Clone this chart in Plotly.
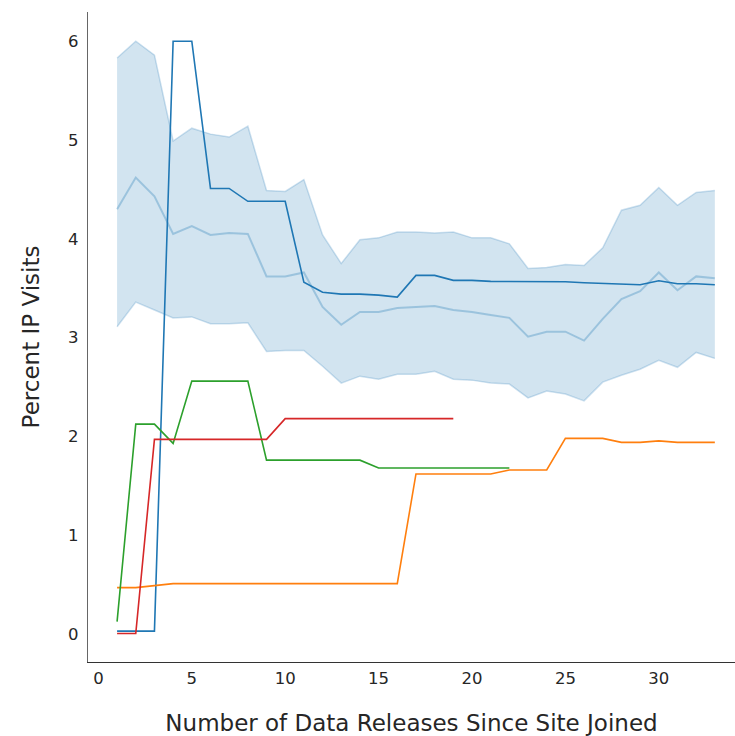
import plotly.graph_objects as go

# Releases since a site joined
releases = list(range(1, 34))

# Mean across all sites with its confidence band
all_sites_mean = [4.30, 4.62, 4.43, 4.05, 4.13, 4.04, 4.06, 4.05, 3.62, 3.62,
                  3.66, 3.31, 3.13, 3.26, 3.26, 3.30, 3.31, 3.32, 3.28, 3.26,
                  3.23, 3.20, 3.01, 3.06, 3.06, 2.97, 3.19, 3.39, 3.47, 3.66,
                  3.48, 3.62, 3.60]
all_sites_upper = [5.83, 6.00, 5.86, 4.99, 5.12, 5.06, 5.03, 5.14, 4.49, 4.48,
                   4.60, 4.04, 3.75, 3.99, 4.01, 4.07, 4.07, 4.06, 4.07, 4.01,
                   4.01, 3.95, 3.70, 3.71, 3.74, 3.73, 3.91, 4.29, 4.34, 4.52,
                   4.34, 4.47, 4.49]
all_sites_lower = [3.11, 3.36, 3.28, 3.20, 3.21, 3.14, 3.14, 3.15, 2.86, 2.87,
                   2.87, 2.71, 2.54, 2.61, 2.58, 2.63, 2.63, 2.66, 2.58, 2.57,
                   2.54, 2.53, 2.39, 2.46, 2.43, 2.36, 2.55, 2.62, 2.68, 2.77,
                   2.70, 2.85, 2.79]

# Individual sites
site_blue = [0.03, 0.03, 0.03, 6.00, 6.00, 4.51, 4.51, 4.38, 4.38, 4.38,
             3.56, 3.46, 3.44, 3.44, 3.43, 3.41, 3.63, 3.63, 3.58, 3.58,
             3.57, 3.57, 3.57, 3.57, 3.565, 3.555, 3.55, 3.54, 3.535, 3.575,
             3.545, 3.545, 3.535]
site_orange = [0.47, 0.47, 0.49, 0.51, 0.51, 0.51, 0.51, 0.51, 0.51, 0.51,
               0.51, 0.51, 0.51, 0.51, 0.51, 0.51, 1.62, 1.62, 1.62, 1.62,
               1.62, 1.66, 1.66, 1.66, 1.98, 1.98, 1.98, 1.94, 1.94, 1.955,
               1.94, 1.94, 1.94]
site_green = [0.125, 2.125, 2.125, 1.93, 2.56, 2.56, 2.56, 2.56, 1.76, 1.76,
              1.76, 1.76, 1.76, 1.76, 1.68, 1.68, 1.68, 1.68, 1.68, 1.68,
              1.68, 1.68]
site_red = [0.005, 0.005, 1.97, 1.97, 1.97, 1.97, 1.97, 1.97, 1.97, 2.18,
            2.18, 2.18, 2.18, 2.18, 2.18, 2.18, 2.18, 2.18, 2.18]

x_ticks = [0, 5, 10, 15, 20, 25, 30]
y_ticks = [0, 1, 2, 3, 4, 5, 6]

BLUE = "#1f77b4"
ORANGE = "#ff7f0e"
GREEN = "#2ca02c"
RED = "#d62728"
BAND = "rgba(31,119,180,0.2)"
BAND_EDGE = "rgba(31,119,180,0.22)"
TEXT = "#262626"
FONT = "DejaVu Sans"

fig = go.Figure()

# confidence band: lower edge then upper edge filled to it
fig.add_trace(go.Scatter(x=releases, y=all_sites_lower, mode="lines",
                         line=dict(color=BAND_EDGE, width=1.5),
                         showlegend=False, hoverinfo="skip"))
fig.add_trace(go.Scatter(x=releases, y=all_sites_upper, mode="lines",
                         line=dict(color=BAND_EDGE, width=1.5),
                         fill="tonexty", fillcolor=BAND,
                         showlegend=False, hoverinfo="skip"))
fig.add_trace(go.Scatter(x=releases, y=all_sites_mean, mode="lines",
                         line=dict(color="rgba(31,119,180,0.3)", width=2),
                         showlegend=False))

for ys, col in [(site_blue, BLUE), (site_orange, ORANGE),
                (site_green, GREEN), (site_red, RED)]:
    fig.add_trace(go.Scatter(x=releases[:len(ys)], y=ys, mode="lines",
                             line=dict(color=col, width=1.6),
                             showlegend=False))

fig.update_layout(
    width=735, height=736,
    margin=dict(l=88, r=0, t=12, b=74),
    plot_bgcolor="white", paper_bgcolor="white",
    font=dict(family=FONT, color=TEXT),
    showlegend=False,
)
fig.update_xaxes(
    range=[-0.557, 34.08], tickvals=x_ticks, ticktext=[str(v) for v in x_ticks],
    showgrid=False, zeroline=False, showline=True, linecolor="#333333",
    linewidth=1.2, ticks="", ticklabelstandoff=1,
    tickfont=dict(size=16.5, family=FONT, color=TEXT),
    title=dict(text="Number of Data Releases Since Site Joined",
               font=dict(size=23, family=FONT, color=TEXT), standoff=29),
)
fig.update_yaxes(
    range=[-0.283, 6.296], tickvals=y_ticks, ticktext=[str(v) for v in y_ticks],
    showgrid=False, zeroline=False, showline=True, linecolor="#666666",
    linewidth=1.2, ticks="", ticklabelstandoff=5,
    tickfont=dict(size=16.5, family=FONT, color=TEXT),
    title=dict(text="Percent IP Visits",
               font=dict(size=23, family=FONT, color=TEXT), standoff=22),
)

fig.write_html("out.html")
